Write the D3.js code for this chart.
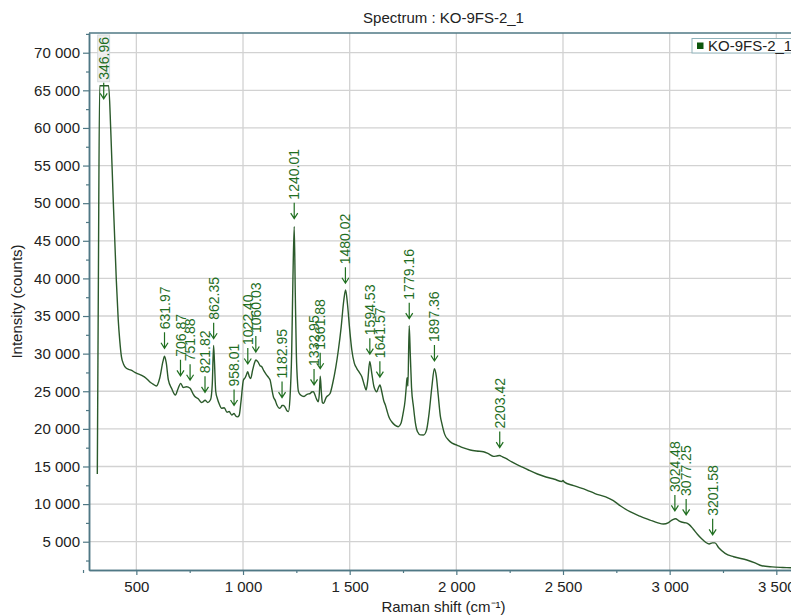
<!DOCTYPE html>
<html>
<head>
<meta charset="utf-8">
<script src="https://cdn.jsdelivr.net/npm/d3@7.9.0/dist/d3.min.js"></script>
<style>
  body { margin: 0; background: #fff; }
  svg { display: block; font-family: Arial, "Liberation Sans", sans-serif; }
</style>
</head>
<body>
<svg id="chart" width="791" height="616"></svg>
<script>
// spectrum
const shift = [
  317, 322, 328, 370, 380, 391, 406, 415, 422, 430, 440, 453, 475, 500, 525, 547, 565, 578, 594,
  610, 625, 632, 640, 650, 665, 683, 695, 708, 720, 735, 752, 765, 774, 790, 805, 813, 822, 835,
  848, 856, 862, 866, 872, 880, 890, 899, 912, 925, 935, 947, 958, 966, 974, 982, 990, 1002, 1010,
  1016, 1022, 1030, 1036, 1045, 1053, 1060, 1070, 1080, 1088, 1098, 1111, 1120, 1127, 1135, 1143,
  1150, 1160, 1170, 1177, 1183, 1190, 1197, 1206, 1213, 1220, 1228, 1234, 1240, 1245, 1250, 1256,
  1260, 1270, 1286, 1300, 1315, 1322, 1330, 1336, 1344, 1353, 1358, 1362, 1367, 1372, 1377, 1390,
  1408, 1420, 1435, 1447, 1460, 1472, 1481, 1490, 1500, 1510, 1522, 1533, 1545, 1557, 1570, 1577,
  1585, 1594, 1604, 1614, 1627, 1635, 1642, 1650, 1660, 1667, 1674, 1685, 1697, 1712, 1728, 1740,
  1750, 1760, 1765, 1769, 1773, 1779, 1784, 1790, 1799, 1808, 1818, 1832, 1846, 1860, 1872, 1885,
  1897, 1906, 1915, 1925, 1932, 1945, 1963, 1980, 2002, 2030, 2065, 2095, 2127, 2150, 2175, 2190,
  2203, 2215, 2230, 2260, 2299, 2340, 2380, 2420, 2460, 2495, 2500, 2505, 2550, 2611, 2650, 2700,
  2736, 2770, 2814, 2860, 2908, 2945, 2971, 2995, 3015, 3027, 3045, 3065, 3077, 3090, 3110, 3130,
  3150, 3170, 3185, 3200, 3212, 3230, 3260, 3300, 3362, 3400, 3432, 3480, 3530, 3570, 3600
];
const counts = [
  14000, 40000, 65600, 65600, 59700, 50900, 39800, 34500, 31800, 29600, 28600, 28050, 27800, 27400, 27100, 26700, 26200, 25950, 25700,
  26800, 29000, 29650, 28800, 26500, 25400, 24500, 25300, 26050, 25500, 25600, 25400, 24700, 24300, 24000, 23500, 23600, 23800, 23500,
  23900, 26000, 31100, 29000, 25000, 24000, 23200, 22750, 22800, 22200, 22300, 21850, 22050, 21700, 21600, 21800, 23500, 26500, 26800,
  27200, 27600, 26900, 26700, 27800, 28700, 29150, 28900, 28400, 28250, 27700, 27150, 26800, 26500, 25300, 24200,
  23850, 23100, 22750, 22850, 23100, 23100, 22900, 22400, 22300, 24000, 30000, 40000, 46900, 38000, 30000, 26000,
  24950, 24500, 24300, 24600, 24700, 24900, 24950, 24600, 24000, 23600, 24800, 27000, 25000, 23500, 23400, 24200,
  24700, 26000, 28200, 30480, 33500, 37000, 38450, 36500, 33200, 30480, 28700, 28050, 27500, 26930, 25700, 25160,
  26500, 28950, 27300, 25600, 24940, 25500, 25830, 25000, 23700, 23200, 22500, 21500, 20950, 20500, 20290, 20700,
  22000, 23830, 25500, 26800, 25700, 33700, 30000, 25500, 22940, 20800, 19620, 19200, 19180, 19800, 22000, 25500,
  28000, 27000, 24500, 21700, 20730, 19300, 18520, 18100, 17850, 17500, 17190, 17050, 16960, 16700, 16350, 16400,
  16450, 16300, 16100, 15600, 15060, 14500, 14000, 13600, 13300, 13000, 13150, 12950, 12450, 11870, 11400, 10950,
  10450, 9750, 8990, 8400, 7880, 7500, 7350, 7550, 7950, 8050, 7750, 7550, 7500, 7300, 6700, 6000,
  5400, 4900, 4700, 4850, 4850, 4200, 3460, 3000, 2570, 2200, 1810, 1650, 1580, 1540, 1500
];

// peak markers
const peakLabels = [
  "346.96", "631.97", "706.87", "751.88", "821.82", "862.35", "958.01", "1022.40", "1060.03",
  "1182.95", "1240.01", "1332.95", "1361.88", "1480.02", "1594.53", "1641.57", "1779.16",
  "1897.36", "2203.42", "3024.48", "3077.25", "3201.58"
];

const xTicks = [500, 1000, 1500, 2000, 2500, 3000, 3500];
const yTicks = [5000, 10000, 15000, 20000, 25000, 30000, 35000, 40000, 45000, 50000, 55000, 60000, 65000, 70000];
const seriesName = "KO-9FS-2_1";

const W = 791, H = 616;
const m = { top: 33, left: 89, bottom: 570, right: 800 };

const svg = d3.select("#chart");
const x = d3.scaleLinear().domain([278, 3611]).range([m.left, m.right]);
const y = d3.scaleLinear().domain([1240, 72620]).range([m.bottom, m.top]);

const fmt = d3.formatLocale({ decimal: ".", thousands: " ", grouping: [3], currency: ["", ""] }).format(",");
const axisCol = "#4f7885";
const lineCol = "#2b5a2b";
const labCol = "#1f6e1f";

// grid
const grid = svg.append("g");
grid.selectAll("line.gx").data(xTicks).join("line")
  .attr("x1", d => x(d)).attr("x2", d => x(d))
  .attr("y1", m.top).attr("y2", m.bottom)
  .attr("stroke", "#d2d2d2").attr("stroke-width", 1.3);
grid.selectAll("line.gy").data(yTicks).join("line")
  .attr("x1", m.left).attr("x2", m.right)
  .attr("y1", d => y(d)).attr("y2", d => y(d))
  .attr("stroke", "#d2d2d2").attr("stroke-width", 1.3);

// minor ticks
const xMinor = d3.range(250, 3751, 500);
const yMinor = d3.range(2500, 72501, 5000);

const xAxisMinor = svg.append("g").attr("transform", `translate(0,${m.bottom})`)
  .call(d3.axisBottom(x).tickValues(xMinor).tickSize(3).tickSizeOuter(0).tickFormat(""));
const yAxisMinor = svg.append("g").attr("transform", `translate(${m.left},0)`)
  .call(d3.axisLeft(y).tickValues(yMinor).tickSize(3).tickSizeOuter(0).tickFormat(""));

const xAxis = svg.append("g").attr("transform", `translate(0,${m.bottom})`)
  .call(d3.axisBottom(x).tickValues(xTicks).tickSize(5).tickSizeOuter(0).tickPadding(6).tickFormat(fmt));
const yAxis = svg.append("g").attr("transform", `translate(${m.left},0)`)
  .call(d3.axisLeft(y).tickValues(yTicks).tickSize(6).tickSizeOuter(0).tickPadding(3).tickFormat(fmt));

[xAxisMinor, yAxisMinor, xAxis, yAxis].forEach(g => {
  g.select(".domain").attr("stroke", axisCol).attr("stroke-width", 1.5);
  g.selectAll(".tick line").attr("stroke", axisCol).attr("stroke-width", 1.2);
  g.selectAll("text").attr("font-size", 15).attr("fill", "#222").attr("font-family", null);
});

// top frame line
svg.append("line")
  .attr("x1", m.left).attr("x2", m.right).attr("y1", m.top).attr("y2", m.top)
  .attr("stroke", axisCol).attr("stroke-width", 1.5);

// spectrum
svg.append("clipPath").attr("id", "clip").append("rect")
  .attr("x", m.left).attr("y", m.top).attr("width", m.right - m.left).attr("height", m.bottom - m.top);

const pts = shift.map((s, i) => [s, counts[i]]);
svg.append("path")
  .datum(pts)
  .attr("clip-path", "url(#clip)")
  .attr("fill", "none")
  .attr("stroke", lineCol)
  .attr("stroke-width", 1.4)
  .attr("d", d3.line().x(d => x(d[0])).y(d => y(d[1])).curve(d3.curveMonotoneX));

// value of the spectrum at a given shift
const bis = d3.bisector(d => d).left;
function valueAt(v) {
  const i = Math.max(1, Math.min(shift.length - 1, bis(shift, v)));
  const t = (v - shift[i - 1]) / (shift[i] - shift[i - 1]);
  return counts[i - 1] + t * (counts[i] - counts[i - 1]);
}

// peak labels: arrow + rotated value
const labels = svg.append("g");
peakLabels.forEach(lab => {
  const px = x(+lab);
  const g = labels.append("g");
  const txt = g.append("text")
    .attr("transform", "rotate(-90)")
    .attr("x", 19).attr("y", 0).attr("dy", "0.36em")
    .attr("font-size", 14).attr("fill", labCol)
    .text(lab);
  const len = txt.node().getComputedTextLength();
  let tip = y(valueAt(+lab)) - 8;
  const minTip = m.top + len + 23;
  let clamped = false;
  if (tip < minTip) { tip = minTip; clamped = true; }
  if (clamped) {
    g.insert("rect", "text")
      .attr("x", -6).attr("y", -(len + 21)).attr("width", 12).attr("height", len + 4)
      .attr("fill", "#eeeeee").attr("stroke", "#cfd6d6").attr("stroke-width", 0.8);
  }
  g.append("path")
    .attr("d", "M0,0L0,-16M-3.5,-5.5L0,0L3.5,-5.5")
    .attr("fill", "none").attr("stroke", labCol).attr("stroke-width", 1.2);
  g.attr("transform", `translate(${px},${tip})`);
});

// legend
const lg = svg.append("g").attr("transform", "translate(692,38.5)");
lg.append("rect").attr("width", 120).attr("height", 14.5)
  .attr("fill", "#fff").attr("stroke", "#8fb2ba").attr("stroke-width", 1);
lg.append("rect").attr("x", 5).attr("y", 4).attr("width", 6.5).attr("height", 6.5).attr("fill", "#0c560c");
lg.append("text").attr("x", 16).attr("y", 12.5).attr("font-size", 15).attr("fill", "#222").text(seriesName);

// titles
svg.append("text").attr("x", 443.5).attr("y", 23).attr("text-anchor", "middle")
  .attr("font-size", 15).attr("fill", "#222").text("Spectrum : " + seriesName);
svg.append("text").attr("x", 443.5).attr("y", 612).attr("text-anchor", "middle")
  .attr("font-size", 15).attr("fill", "#222").text("Raman shift (cm⁻¹)");
svg.append("text").attr("transform", `translate(22,${(m.top + m.bottom) / 2}) rotate(-90)`)
  .attr("text-anchor", "middle").attr("font-size", 15).attr("fill", "#222").text("Intensity (counts)");
</script>
</body>
</html>
